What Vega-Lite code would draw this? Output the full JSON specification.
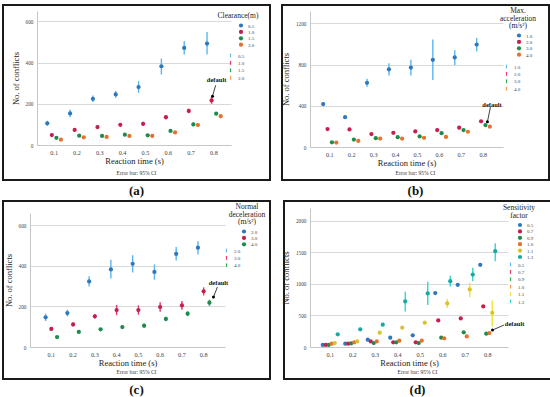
{
  "padding": {"left": 2, "top": 4, "right": 0, "bottom": 0},
  "config": {
    "font": "Liberation Serif",
    "view": {"stroke": "#1a1a1a", "strokeWidth": 2, "fill": "white"},
    "axis": {"labelFont": "Liberation Serif", "titleFont": "Liberation Serif", "ticks": false, "domainColor": "#c6c6c6", "domainWidth": 1, "gridColor": "#d9d9d9", "gridWidth": 1, "labelColor": "#444", "titleColor": "#222", "titleFontWeight": "normal", "titleFontSize": 8.5},
    "axisX": {"labelFontSize": 6.2, "labelPadding": 4, "titlePadding": 1, "grid": false, "labelAngle": 0},
    "axisY": {"labelFontSize": 5.3, "labelPadding": 4, "titlePadding": 5, "grid": true, "format": "d"},
    "legend": {"labelFont": "Liberation Serif", "titleFont": "Liberation Serif", "titleFontSize": 7.5, "titleFontWeight": "normal", "titleColor": "#222", "labelColor": "#444", "labelFontSize": 5, "rowPadding": 0.4, "padding": 0, "labelOffset": 4, "titleAlign": "center", "titleAnchor": "middle", "titleLineHeight": 7.5, "titlePadding": 3},
    "title": {"font": "Liberation Serif", "fontSize": 5.5, "fontWeight": "normal", "color": "#333", "subtitleFont": "Liberation Serif", "subtitleFontSize": 13, "subtitleFontWeight": "bold", "subtitleColor": "#111", "subtitlePadding": 8, "orient": "bottom", "anchor": "middle", "offset": -9}
  },
  "datasets": {
    "a": [
      {"t":"0.1","g":"0.5","y":105,"lo":93,"hi":118},
      {"t":"0.2","g":"0.5","y":153,"lo":135,"hi":172},
      {"t":"0.3","g":"0.5","y":224,"lo":208,"hi":240},
      {"t":"0.4","g":"0.5","y":245,"lo":229,"hi":262},
      {"t":"0.5","g":"0.5","y":281,"lo":253,"hi":310},
      {"t":"0.6","g":"0.5","y":382,"lo":342,"hi":419},
      {"t":"0.7","g":"0.5","y":471,"lo":439,"hi":503},
      {"t":"0.8","g":"0.5","y":492,"lo":439,"hi":548},
      {"t":"0.1","g":"1.0","y":48,"lo":42,"hi":55},
      {"t":"0.2","g":"1.0","y":73,"lo":66,"hi":80},
      {"t":"0.3","g":"1.0","y":87,"lo":79,"hi":95},
      {"t":"0.4","g":"1.0","y":98,"lo":90,"hi":106},
      {"t":"0.5","g":"1.0","y":103,"lo":93,"hi":113},
      {"t":"0.6","g":"1.0","y":135,"lo":124,"hi":146},
      {"t":"0.7","g":"1.0","y":165,"lo":154,"hi":176},
      {"t":"0.8","g":"1.0","y":216,"lo":200,"hi":234},
      {"t":"0.1","g":"1.5","y":35,"lo":31,"hi":40},
      {"t":"0.2","g":"1.5","y":45,"lo":40,"hi":50},
      {"t":"0.3","g":"1.5","y":44,"lo":39,"hi":49},
      {"t":"0.4","g":"1.5","y":50,"lo":45,"hi":55},
      {"t":"0.5","g":"1.5","y":47,"lo":42,"hi":52},
      {"t":"0.6","g":"1.5","y":68,"lo":62,"hi":74},
      {"t":"0.7","g":"1.5","y":100,"lo":91,"hi":109},
      {"t":"0.8","g":"1.5","y":152,"lo":144,"hi":160},
      {"t":"0.1","g":"2.0","y":26,"lo":23,"hi":29},
      {"t":"0.2","g":"2.0","y":37,"lo":33,"hi":41},
      {"t":"0.3","g":"2.0","y":39,"lo":35,"hi":43},
      {"t":"0.4","g":"2.0","y":44,"lo":40,"hi":48},
      {"t":"0.5","g":"2.0","y":44,"lo":40,"hi":48},
      {"t":"0.6","g":"2.0","y":61,"lo":56,"hi":66},
      {"t":"0.7","g":"2.0","y":97,"lo":89,"hi":105},
      {"t":"0.8","g":"2.0","y":140,"lo":133,"hi":147}
    ],
    "b": [
      {"t":"0.1","g":"1.0","y":417,"lo":398,"hi":436},
      {"t":"0.2","g":"1.0","y":289,"lo":272,"hi":306},
      {"t":"0.3","g":"1.0","y":623,"lo":585,"hi":662},
      {"t":"0.4","g":"1.0","y":754,"lo":695,"hi":813},
      {"t":"0.5","g":"1.0","y":771,"lo":695,"hi":846},
      {"t":"0.6","g":"1.0","y":846,"lo":650,"hi":1043},
      {"t":"0.7","g":"1.0","y":869,"lo":797,"hi":938},
      {"t":"0.8","g":"1.0","y":994,"lo":928,"hi":1059},
      {"t":"0.1","g":"2.0","y":174,"lo":163,"hi":185},
      {"t":"0.2","g":"2.0","y":171,"lo":156,"hi":186},
      {"t":"0.3","g":"2.0","y":125,"lo":115,"hi":135},
      {"t":"0.4","g":"2.0","y":138,"lo":127,"hi":149},
      {"t":"0.5","g":"2.0","y":151,"lo":139,"hi":163},
      {"t":"0.6","g":"2.0","y":164,"lo":152,"hi":176},
      {"t":"0.7","g":"2.0","y":187,"lo":172,"hi":202},
      {"t":"0.8","g":"2.0","y":249,"lo":236,"hi":262},
      {"t":"0.1","g":"3.0","y":46,"lo":40,"hi":52},
      {"t":"0.2","g":"3.0","y":72,"lo":65,"hi":79},
      {"t":"0.3","g":"3.0","y":85,"lo":78,"hi":92},
      {"t":"0.4","g":"3.0","y":95,"lo":87,"hi":103},
      {"t":"0.5","g":"3.0","y":102,"lo":93,"hi":111},
      {"t":"0.6","g":"3.0","y":134,"lo":124,"hi":144},
      {"t":"0.7","g":"3.0","y":164,"lo":153,"hi":175},
      {"t":"0.8","g":"3.0","y":213,"lo":198,"hi":228},
      {"t":"0.1","g":"4.0","y":43,"lo":38,"hi":48},
      {"t":"0.2","g":"4.0","y":59,"lo":53,"hi":65},
      {"t":"0.3","g":"4.0","y":82,"lo":75,"hi":89},
      {"t":"0.4","g":"4.0","y":82,"lo":75,"hi":89},
      {"t":"0.5","g":"4.0","y":89,"lo":81,"hi":97},
      {"t":"0.6","g":"4.0","y":98,"lo":90,"hi":106},
      {"t":"0.7","g":"4.0","y":148,"lo":138,"hi":158},
      {"t":"0.8","g":"4.0","y":197,"lo":185,"hi":209}
    ],
    "c": [
      {"t":"0.1","g":"2.0","y":146,"lo":128,"hi":164},
      {"t":"0.2","g":"2.0","y":167,"lo":151,"hi":184},
      {"t":"0.3","g":"2.0","y":323,"lo":298,"hi":348},
      {"t":"0.4","g":"2.0","y":382,"lo":338,"hi":430},
      {"t":"0.5","g":"2.0","y":410,"lo":367,"hi":452},
      {"t":"0.6","g":"2.0","y":370,"lo":331,"hi":407},
      {"t":"0.7","g":"2.0","y":459,"lo":426,"hi":492},
      {"t":"0.8","g":"2.0","y":489,"lo":456,"hi":521},
      {"t":"0.1","g":"3.0","y":89,"lo":79,"hi":99},
      {"t":"0.2","g":"3.0","y":111,"lo":101,"hi":121},
      {"t":"0.3","g":"3.0","y":151,"lo":140,"hi":162},
      {"t":"0.4","g":"3.0","y":182,"lo":157,"hi":207},
      {"t":"0.5","g":"3.0","y":182,"lo":159,"hi":205},
      {"t":"0.6","g":"3.0","y":197,"lo":174,"hi":220},
      {"t":"0.7","g":"3.0","y":205,"lo":184,"hi":226},
      {"t":"0.8","g":"3.0","y":274,"lo":254,"hi":294},
      {"t":"0.1","g":"4.0","y":49,"lo":44,"hi":54},
      {"t":"0.2","g":"4.0","y":74,"lo":67,"hi":81},
      {"t":"0.3","g":"4.0","y":87,"lo":80,"hi":94},
      {"t":"0.4","g":"4.0","y":98,"lo":90,"hi":106},
      {"t":"0.5","g":"4.0","y":105,"lo":95,"hi":115},
      {"t":"0.6","g":"4.0","y":138,"lo":127,"hi":149},
      {"t":"0.7","g":"4.0","y":164,"lo":152,"hi":176},
      {"t":"0.8","g":"4.0","y":218,"lo":203,"hi":233}
    ],
    "d": [
      {"t":"0.1","g":"0.5","y":32,"lo":28,"hi":36},
      {"t":"0.2","g":"0.5","y":53,"lo":48,"hi":58},
      {"t":"0.3","g":"0.5","y":116,"lo":108,"hi":124},
      {"t":"0.4","g":"0.5","y":147,"lo":138,"hi":156},
      {"t":"0.5","g":"0.5","y":184,"lo":174,"hi":194},
      {"t":"0.6","g":"0.5","y":853,"lo":835,"hi":871},
      {"t":"0.7","g":"0.5","y":984,"lo":962,"hi":1006},
      {"t":"0.8","g":"0.5","y":1300,"lo":1275,"hi":1325},
      {"t":"0.1","g":"0.7","y":32,"lo":28,"hi":36},
      {"t":"0.2","g":"0.7","y":53,"lo":48,"hi":58},
      {"t":"0.3","g":"0.7","y":89,"lo":82,"hi":96},
      {"t":"0.4","g":"0.7","y":74,"lo":68,"hi":80},
      {"t":"0.5","g":"0.7","y":74,"lo":68,"hi":80},
      {"t":"0.6","g":"0.7","y":421,"lo":405,"hi":437},
      {"t":"0.7","g":"0.7","y":453,"lo":436,"hi":470},
      {"t":"0.8","g":"0.7","y":642,"lo":620,"hi":664},
      {"t":"0.1","g":"0.9","y":32,"lo":28,"hi":36},
      {"t":"0.2","g":"0.9","y":58,"lo":53,"hi":63},
      {"t":"0.3","g":"0.9","y":63,"lo":57,"hi":69},
      {"t":"0.4","g":"0.9","y":74,"lo":68,"hi":80},
      {"t":"0.5","g":"0.9","y":63,"lo":57,"hi":69},
      {"t":"0.6","g":"0.9","y":147,"lo":138,"hi":156},
      {"t":"0.7","g":"0.9","y":232,"lo":220,"hi":244},
      {"t":"0.8","g":"0.9","y":211,"lo":200,"hi":222},
      {"t":"0.1","g":"1.0","y":53,"lo":48,"hi":58},
      {"t":"0.2","g":"1.0","y":74,"lo":68,"hi":80},
      {"t":"0.3","g":"1.0","y":89,"lo":82,"hi":96},
      {"t":"0.4","g":"1.0","y":100,"lo":92,"hi":108},
      {"t":"0.5","g":"1.0","y":100,"lo":92,"hi":108},
      {"t":"0.6","g":"1.0","y":137,"lo":128,"hi":146},
      {"t":"0.7","g":"1.0","y":168,"lo":158,"hi":178},
      {"t":"0.8","g":"1.0","y":221,"lo":210,"hi":232},
      {"t":"0.1","g":"1.1","y":63,"lo":57,"hi":69},
      {"t":"0.2","g":"1.1","y":89,"lo":82,"hi":96},
      {"t":"0.3","g":"1.1","y":226,"lo":205,"hi":247},
      {"t":"0.4","g":"1.1","y":305,"lo":285,"hi":325},
      {"t":"0.5","g":"1.1","y":384,"lo":360,"hi":408},
      {"t":"0.6","g":"1.1","y":689,"lo":616,"hi":758},
      {"t":"0.7","g":"1.1","y":911,"lo":789,"hi":1016},
      {"t":"0.8","g":"1.1","y":542,"lo":326,"hi":737},
      {"t":"0.1","g":"1.3","y":200,"lo":180,"hi":220},
      {"t":"0.2","g":"1.3","y":279,"lo":255,"hi":303},
      {"t":"0.3","g":"1.3","y":353,"lo":330,"hi":376},
      {"t":"0.4","g":"1.3","y":721,"lo":563,"hi":874},
      {"t":"0.5","g":"1.3","y":847,"lo":663,"hi":1031},
      {"t":"0.6","g":"1.3","y":1042,"lo":958,"hi":1126},
      {"t":"0.7","g":"1.3","y":1147,"lo":1042,"hi":1253},
      {"t":"0.8","g":"1.3","y":1516,"lo":1358,"hi":1642}
    ]
  },
  "resolve": {"scale": {"x": "independent", "y": "independent", "xOffset": "independent", "color": "independent", "stroke": "independent"}, "legend": {"color": "independent", "stroke": "independent"}},
  "spacing": 1,
  "vconcat": [
    {
      "spacing": 9,
      "resolve": {"scale": {"x": "independent", "y": "independent", "xOffset": "independent", "color": "independent", "stroke": "independent"}, "legend": {"color": "independent", "stroke": "independent"}},
      "hconcat": [
        {
          "width": 267, "height": 175,
          "title": {"text": "Error bar: 95% CI", "subtitle": "(a)"},
          "layer": [
            {
              "data": {"name": "a"},
              "mark": {"type": "rule", "strokeWidth": 1.4},
              "encoding": {
                "x": {"field": "t", "type": "ordinal", "title": "Reaction time (s)", "scale": {"range": [34, 228], "paddingOuter": 0.25, "paddingInner": 0}, "axis": {"offset": -35}},
                "xOffset": {"field": "g", "type": "nominal", "scale": {"paddingOuter": 0.5, "paddingInner": 0}},
                "y": {"field": "lo", "type": "quantitative", "title": "No. of conflicts", "scale": {"domain": [0, 650], "range": [140, 6], "nice": false}, "axis": {"offset": -34, "values": [0, 100, 200, 300, 400, 500, 600]}},
                "y2": {"field": "hi"},
                "stroke": {"field": "g", "type": "nominal", "scale": {"range": ["#5cb6ea", "#e4376a", "#27ad50", "#f2994a"]}, "legend": {"title": null, "orient": "none", "legendX": 225, "legendY": 48, "symbolType": "M0,-1L0,1M-0.5,-1L0.5,-1M-0.5,1L0.5,1", "symbolSize": 7, "symbolStrokeWidth": 1, "labelOffset": 5}}
              }
            },
            {
              "data": {"name": "a"},
              "mark": {"type": "point", "filled": true, "size": 18, "opacity": 1},
              "encoding": {
                "x": {"field": "t", "type": "ordinal", "title": "Reaction time (s)"},
                "xOffset": {"field": "g", "type": "nominal"},
                "y": {"field": "y", "type": "quantitative", "title": "No. of conflicts"},
                "color": {"field": "g", "type": "nominal", "scale": {"domain": ["0.5", "1.0", "1.5", "2.0"], "range": ["#2f78bd", "#c71f4d", "#1c8c4a", "#e3722f"]}, "legend": {"title": "Clearance(m)", "orient": "none", "legendX": 215, "legendY": 7, "symbolType": "circle", "symbolSize": 18, "symbolOffset": 16, "encode": {"symbols": {"update": {"fill": {"signal": "datum.value === '0.5' ? '#4d6a85' : datum.value === '1.0' ? '#86465a' : datum.value === '1.5' ? '#3d6b53' : '#8f6a58'"}}}}}}
              }
            },
            {
              "data": {"values": [{"t": "0.8", "dot": 237, "top": 290, "ty": 314, "label": "default"}]},
              "layer": [
                {"mark": {"type": "rule", "color": "#111", "strokeWidth": 0.8}, "encoding": {"x": {"field": "t", "type": "ordinal", "bandPosition": 0.44, "title": "Reaction time (s)"}, "x2": {"field": "t", "bandPosition": 0.58}, "y": {"field": "dot", "type": "quantitative", "title": "No. of conflicts"}, "y2": {"field": "top"}}},
                {"mark": {"type": "point", "filled": true, "color": "#000", "size": 9, "opacity": 1}, "encoding": {"x": {"field": "t", "type": "ordinal", "bandPosition": 0.44, "title": "Reaction time (s)"}, "y": {"field": "dot", "type": "quantitative", "title": "No. of conflicts"}}},
                {"mark": {"type": "text", "fontWeight": "bold", "fontSize": 6.5, "color": "#111", "baseline": "middle"}, "encoding": {"x": {"field": "t", "type": "ordinal", "bandPosition": 0.62, "title": "Reaction time (s)"}, "y": {"field": "ty", "type": "quantitative", "title": "No. of conflicts"}, "text": {"field": "label"}}}
              ]
            }
          ]
        },
        {
          "width": 267, "height": 175,
          "title": {"text": "Error bar: 95% CI", "subtitle": "(b)"},
          "layer": [
            {
              "data": {"name": "b"},
              "mark": {"type": "rule", "strokeWidth": 1.4},
              "encoding": {
                "x": {"field": "t", "type": "ordinal", "title": "Reaction time (s)", "scale": {"range": [28, 221], "paddingOuter": 0.4, "paddingInner": 0}, "axis": {"offset": -33}},
                "xOffset": {"field": "g", "type": "nominal", "scale": {"paddingOuter": 0.5, "paddingInner": 0}},
                "y": {"field": "lo", "type": "quantitative", "title": "No. of conflicts", "scale": {"domain": [0, 1320], "range": [142, 6], "nice": false}, "axis": {"offset": -28, "values": [0, 200, 400, 600, 800, 1000, 1200]}},
                "y2": {"field": "hi"},
                "stroke": {"field": "g", "type": "nominal", "scale": {"range": ["#5cb6ea", "#e4376a", "#27ad50", "#f2994a"]}, "legend": {"title": null, "orient": "none", "legendX": 222, "legendY": 59, "symbolType": "M0,-1L0,1M-0.5,-1L0.5,-1M-0.5,1L0.5,1", "symbolSize": 7, "symbolStrokeWidth": 1, "labelOffset": 5}}
              }
            },
            {
              "data": {"name": "b"},
              "mark": {"type": "point", "filled": true, "size": 18, "opacity": 1},
              "encoding": {
                "x": {"field": "t", "type": "ordinal", "title": "Reaction time (s)"},
                "xOffset": {"field": "g", "type": "nominal"},
                "y": {"field": "y", "type": "quantitative", "title": "No. of conflicts"},
                "color": {"field": "g", "type": "nominal", "scale": {"domain": ["1.0", "2.0", "3.0", "4.0"], "range": ["#2f78bd", "#c71f4d", "#1c8c4a", "#e3722f"]}, "legend": {"title": ["Max.", "acceleration", "(m/s²)"], "orient": "none", "legendX": 218, "legendY": 2, "symbolType": "circle", "symbolSize": 18, "symbolOffset": 12, "encode": {"symbols": {"update": {"fill": {"signal": "datum.value === '1.0' ? '#4d6a85' : datum.value === '2.0' ? '#86465a' : datum.value === '3.0' ? '#3d6b53' : '#8f6a58'"}}}}}}
              }
            },
            {
              "data": {"values": [{"t": "0.8", "dot": 245, "top": 390, "ty": 410, "label": "default"}]},
              "layer": [
                {"mark": {"type": "rule", "color": "#111", "strokeWidth": 0.8}, "encoding": {"x": {"field": "t", "type": "ordinal", "bandPosition": 0.69, "title": "Reaction time (s)"}, "x2": {"field": "t", "bandPosition": 0.83}, "y": {"field": "dot", "type": "quantitative", "title": "No. of conflicts"}, "y2": {"field": "top"}}},
                {"mark": {"type": "point", "filled": true, "color": "#000", "size": 9, "opacity": 1}, "encoding": {"x": {"field": "t", "type": "ordinal", "bandPosition": 0.69, "title": "Reaction time (s)"}, "y": {"field": "dot", "type": "quantitative", "title": "No. of conflicts"}}},
                {"mark": {"type": "text", "fontWeight": "bold", "fontSize": 6.5, "color": "#111", "baseline": "middle"}, "encoding": {"x": {"field": "t", "type": "ordinal", "bandPosition": 0.9, "title": "Reaction time (s)"}, "y": {"field": "ty", "type": "quantitative", "title": "No. of conflicts"}, "text": {"field": "label"}}}
              ]
            }
          ]
        }
      ]
    },
    {
      "spacing": 9,
      "resolve": {"scale": {"x": "independent", "y": "independent", "xOffset": "independent", "color": "independent", "stroke": "independent"}, "legend": {"color": "independent", "stroke": "independent"}},
      "hconcat": [
        {
          "width": 267, "height": 178,
          "title": {"text": "Error bar: 95% CI", "subtitle": "(c)"},
          "layer": [
            {
              "data": {"name": "c"},
              "mark": {"type": "rule", "strokeWidth": 1.4},
              "encoding": {
                "x": {"field": "t", "type": "ordinal", "title": "Reaction time (s)", "scale": {"range": [27, 222], "paddingOuter": 0.48, "paddingInner": 0}, "axis": {"offset": -32}},
                "xOffset": {"field": "g", "type": "nominal", "scale": {"paddingOuter": 0.4, "paddingInner": 0}},
                "y": {"field": "lo", "type": "quantitative", "title": "No. of conflicts", "scale": {"domain": [0, 660], "range": [146, 12], "nice": false}, "axis": {"offset": -27, "values": [0, 100, 200, 300, 400, 500, 600]}},
                "y2": {"field": "hi"},
                "stroke": {"field": "g", "type": "nominal", "scale": {"range": ["#5cb6ea", "#e4376a", "#27ad50"]}, "legend": {"title": null, "orient": "none", "legendX": 221, "legendY": 47, "symbolType": "M0,-1L0,1M-0.5,-1L0.5,-1M-0.5,1L0.5,1", "symbolSize": 7, "symbolStrokeWidth": 1, "labelOffset": 5}}
              }
            },
            {
              "data": {"name": "c"},
              "mark": {"type": "point", "filled": true, "size": 18, "opacity": 1},
              "encoding": {
                "x": {"field": "t", "type": "ordinal", "title": "Reaction time (s)"},
                "xOffset": {"field": "g", "type": "nominal"},
                "y": {"field": "y", "type": "quantitative", "title": "No. of conflicts"},
                "color": {"field": "g", "type": "nominal", "scale": {"domain": ["2.0", "3.0", "4.0"], "range": ["#2f78bd", "#c71f4d", "#1c8c4a"]}, "legend": {"title": ["Normal", "deceleration", "(m/s²)"], "orient": "none", "legendX": 226, "legendY": 2, "symbolType": "circle", "symbolSize": 18, "symbolOffset": 4, "encode": {"symbols": {"update": {"fill": {"signal": "datum.value === '2.0' ? '#4d6a85' : datum.value === '3.0' ? '#86465a' : '#3d6b53'"}}}}}}
              }
            },
            {
              "data": {"values": [{"t": "0.8", "dot": 246, "top": 295, "ty": 315, "label": "default"}]},
              "layer": [
                {"mark": {"type": "rule", "color": "#111", "strokeWidth": 0.8}, "encoding": {"x": {"field": "t", "type": "ordinal", "bandPosition": 0.95, "title": "Reaction time (s)"}, "x2": {"field": "t", "bandPosition": 1.13}, "y": {"field": "dot", "type": "quantitative", "title": "No. of conflicts"}, "y2": {"field": "top"}}},
                {"mark": {"type": "point", "filled": true, "color": "#000", "size": 9, "opacity": 1}, "encoding": {"x": {"field": "t", "type": "ordinal", "bandPosition": 0.95, "title": "Reaction time (s)"}, "y": {"field": "dot", "type": "quantitative", "title": "No. of conflicts"}}},
                {"mark": {"type": "text", "fontWeight": "bold", "fontSize": 6.5, "color": "#111", "baseline": "middle"}, "encoding": {"x": {"field": "t", "type": "ordinal", "bandPosition": 1.18, "title": "Reaction time (s)"}, "y": {"field": "ty", "type": "quantitative", "title": "No. of conflicts"}, "text": {"field": "label"}}}
              ]
            }
          ]
        },
        {
          "width": 267, "height": 178,
          "title": {"text": "Error bar: 95% CI", "subtitle": "(d)"},
          "layer": [
            {
              "data": {"name": "d"},
              "mark": {"type": "rule", "strokeWidth": 1.4},
              "encoding": {
                "x": {"field": "t", "type": "ordinal", "title": "Reaction time (s)", "scale": {"range": [26, 224], "paddingOuter": 0.4, "paddingInner": 0}, "axis": {"offset": -32}},
                "xOffset": {"field": "g", "type": "nominal", "scale": {"paddingOuter": 0.75, "paddingInner": 0}},
                "y": {"field": "lo", "type": "quantitative", "title": "No. of conflicts", "scale": {"domain": [0, 2200], "range": [146, 7], "nice": false}, "axis": {"offset": -26, "values": [0, 500, 1000, 1500, 2000]}},
                "y2": {"field": "hi"},
                "stroke": {"field": "g", "type": "nominal", "scale": {"range": ["#5cb6ea", "#e4376a", "#27ad50", "#f2994a", "#f2e23c", "#33d6cf"]}, "legend": {"title": null, "orient": "none", "legendX": 224, "legendY": 61, "symbolType": "M0,-1L0,1M-0.5,-1L0.5,-1M-0.5,1L0.5,1", "symbolSize": 7, "symbolStrokeWidth": 1, "labelOffset": 5}}
              }
            },
            {
              "data": {"name": "d"},
              "mark": {"type": "point", "filled": true, "size": 18, "opacity": 1},
              "encoding": {
                "x": {"field": "t", "type": "ordinal", "title": "Reaction time (s)"},
                "xOffset": {"field": "g", "type": "nominal"},
                "y": {"field": "y", "type": "quantitative", "title": "No. of conflicts"},
                "color": {"field": "g", "type": "nominal", "scale": {"domain": ["0.5", "0.7", "0.9", "1.0", "1.1", "1.3"], "range": ["#2f78bd", "#c71f4d", "#1c8c4a", "#e3722f", "#d8c32c", "#19a9a2"]}, "legend": {"title": ["Sensitivity", "factor"], "orient": "none", "legendX": 219, "legendY": 3, "symbolType": "circle", "symbolSize": 18, "symbolOffset": 12, "encode": {"symbols": {"update": {"fill": {"signal": "datum.value === '0.5' ? '#4d6a85' : datum.value === '0.7' ? '#86465a' : datum.value === '0.9' ? '#3d6b53' : datum.value === '1.0' ? '#8f6a58' : datum.value === '1.1' ? '#7f7650' : '#2f6f6a'"}}}}}}
              }
            },
            {
              "data": {"values": [{"t": "0.8", "dot": 268, "top": 347, "ty": 363, "label": "default"}]},
              "layer": [
                {"mark": {"type": "rule", "color": "#111", "strokeWidth": 0.8}, "encoding": {"x": {"field": "t", "type": "ordinal", "bandPosition": 0.71, "title": "Reaction time (s)"}, "x2": {"field": "t", "bandPosition": 1.22}, "y": {"field": "dot", "type": "quantitative", "title": "No. of conflicts"}, "y2": {"field": "top"}}},
                {"mark": {"type": "point", "filled": true, "color": "#000", "size": 9, "opacity": 1}, "encoding": {"x": {"field": "t", "type": "ordinal", "bandPosition": 0.71, "title": "Reaction time (s)"}, "y": {"field": "dot", "type": "quantitative", "title": "No. of conflicts"}}},
                {"mark": {"type": "text", "fontWeight": "bold", "fontSize": 6.5, "color": "#111", "baseline": "middle", "align": "left"}, "encoding": {"x": {"field": "t", "type": "ordinal", "bandPosition": 1.26, "title": "Reaction time (s)"}, "y": {"field": "ty", "type": "quantitative", "title": "No. of conflicts"}, "text": {"field": "label"}}}
              ]
            }
          ]
        }
      ]
    }
  ]
}
